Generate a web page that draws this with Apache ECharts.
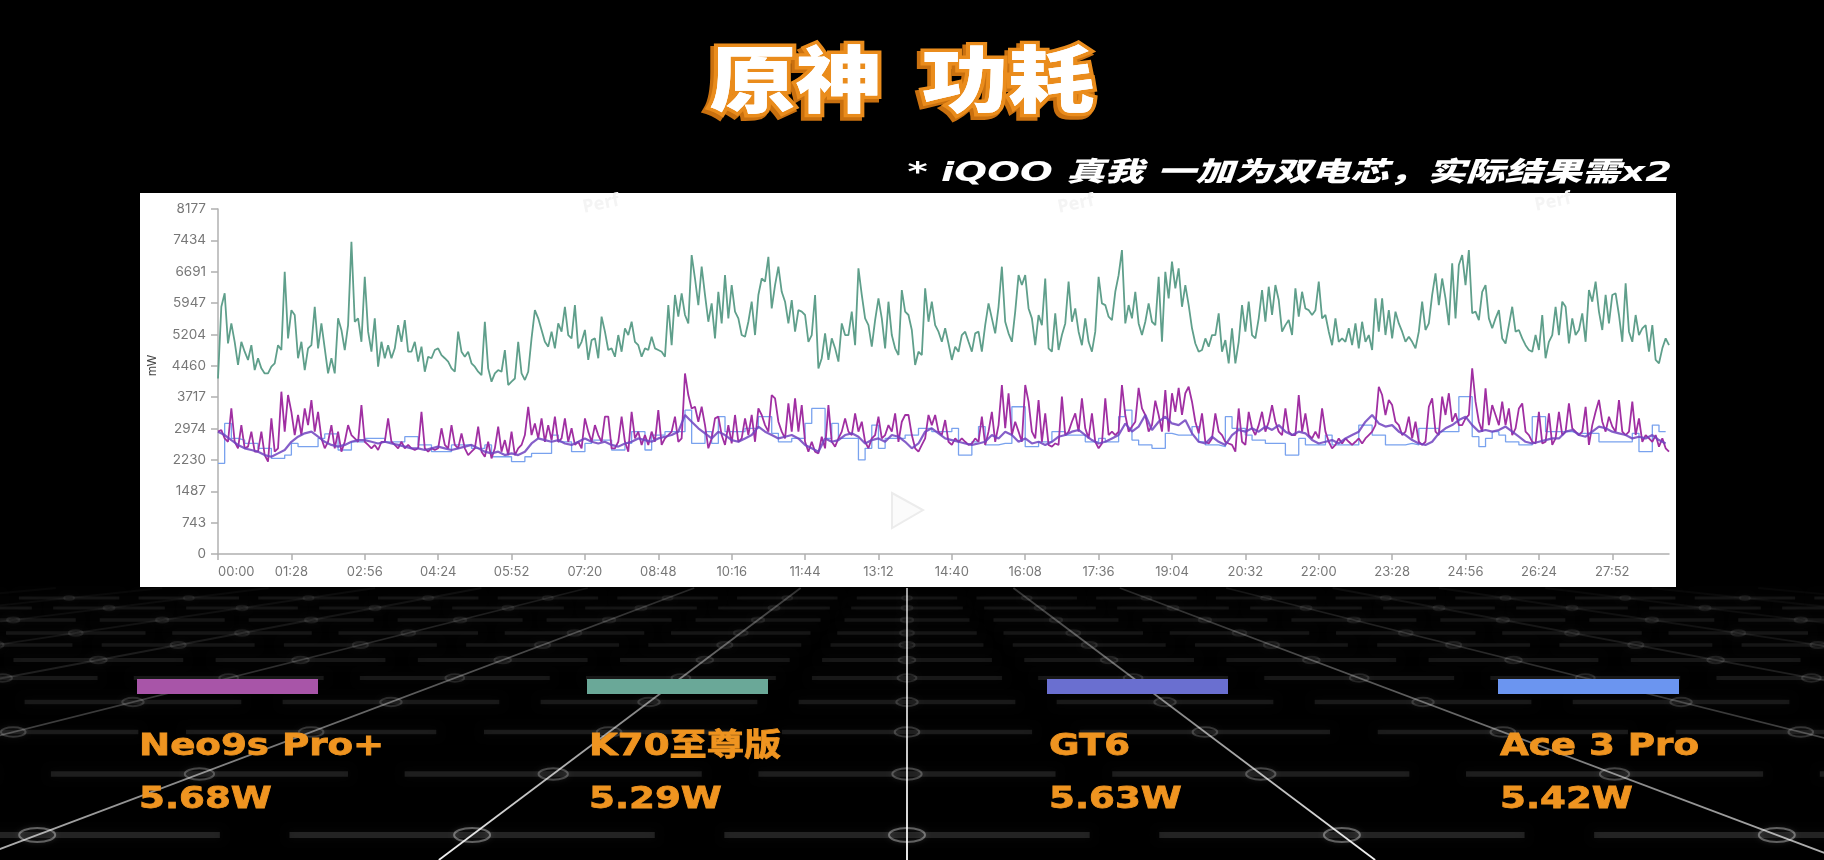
<!DOCTYPE html>
<html lang="zh">
<head>
    <meta charset="UTF-8">
    <title>原神 功耗</title>
    <script src="https://cdn.jsdelivr.net/npm/echarts@6/dist/echarts.min.js"></script>
    <style>html,body{margin:0;padding:0;background:#000;} #main{filter:blur(0.5px);}</style>
</head>
<body>
<div id="main" style="width: 1824px;height:860px;"></div>
<script type="text/javascript">
    // K70至尊版, one value every 4 s
    var k70Values = [
        4160,5860,6180,4990,5465,5030,4480,5030,4795,4600,4950,4360,4640,4400,4280,4280,4440,4520,4950,4835,
        6690,5110,5780,5665,4640,5030,4360,4875,4950,5860,4875,5465,4875,4280,4640,4280,5585,5310,4835,5425,
        7400,5505,5585,5030,6570,5270,4795,5585,4440,5030,4640,4950,4640,4875,5425,5030,5545,4795,4795,5030,
        4560,4915,4320,4675,4640,4835,4875,4715,4640,4560,4400,4320,5270,4795,4675,4795,4520,4440,4320,4240,
        5505,4400,4085,4280,4360,4320,4835,4005,4085,4160,
        5030,4280,4125,4320,5110,5780,5585,5310,5030,4915,5270,4875,5465,5270,5860,5190,5110,5900,4875,5030,
        5310,4600,5070,5110,4640,5625,5270,4835,4875,4675,5190,4795,5350,5190,5505,5030,4950,4675,4875,4835,
        5150,4875,4835,4795,4675,5900,4950,6140,5625,6180,5665,5465,7085,6530,5900,6810,6140,5505,5940,5110,
        6215,5465,6610,5585,6375,5745,5585,5190,5150,5505,5980,5190,6140,6530,6455,7045,5820,6375,6810,6215,
        5980,5465,6020,5270,5780,5745,5665,5030,
        5190,6140,4400,4640,5230,4600,5110,4875,4560,5465,5190,5190,5745,4950,6770,6140,5585,5425,4915,5545,
        6060,5585,4875,5980,5190,4875,4715,6255,5745,5665,5310,4480,4795,4715,6295,5505,5980,5425,5270,5030,
        5350,4990,4600,4915,4795,5190,5270,5030,4795,5230,5270,4795,5425,5940,5585,5230,5860,6810,5505,5230,
        5030,5745,6610,6375,6610,5820,5585,4950,5665,5425,6530,4875,4795,5705,4835,5190,5465,6455,5505,5820,
        5270,4950,5585,5030,4795,5270,6570,
        5940,5900,5625,5545,6215,6610,7205,5465,5900,5585,6215,5465,5190,5505,5940,5505,5425,6570,5030,6690,
        6060,6930,6295,6770,5860,6375,5900,5350,4990,4795,4835,5110,4915,5190,5190,5705,4795,5070,4520,5350,
        4520,5030,5900,5270,5980,5190,5110,5585,6255,5505,6335,5665,6375,6020,5270,5425,5545,5190,6295,5625,
        6215,5820,5780,5665,5780,6455,5585,5665,5270,4950,5585,5030,5110,5030,5350,4950,5465,4875,5505,5030,
        5190,4835,6060,5270,6060,5190,5780,
        5110,5745,5465,5270,5030,5150,5030,4875,5270,5980,5310,5465,6140,6650,5900,6530,6060,5425,6890,5585,
        6850,7085,6375,7205,5705,5745,5545,6215,6375,5585,5350,5585,5780,5110,4990,5425,5860,5270,5310,5110,
        4950,4835,4795,5190,4835,5665,4640,5030,5190,5860,5190,5980,5860,4990,5585,5190,5310,5705,5030,6255,
        5980,6455,5745,5310,6140,5465,6140,6180,5665,5030,6415,5270,5030,5665,5190,5350,5425,4795,5425,4600,
        4520,4875,5110,4950
    ];
    // Neo9s Pro+, one value every 4 s
    var neoValues = [
        2900,2940,2740,2660,3450,2660,2505,3055,2505,2545,2900,2425,2425,2900,2345,2190,3215,2425,2505,3847,
        2900,3768,3370,2820,3295,2820,3450,3055,3650,2900,3370,2740,2505,2660,3055,2505,2900,2425,2660,3055,
        2820,2740,2660,3530,2660,2585,2505,2585,2465,2660,2660,3215,2660,2585,2505,2660,2505,2585,2505,2465,
        2505,3370,2505,2425,2505,2465,2505,2980,2585,2505,3055,2585,2505,2860,2505,2345,2425,2505,3020,2425,
        2305,2660,2265,2505,3020,2425,2700,2345,2900,2345,
        2505,2585,2820,3490,2820,3095,2740,3215,2660,3055,2700,3255,2660,2740,3215,2660,2980,2585,2660,2505,
        3215,2900,2660,3055,2820,2660,3255,3255,2505,2505,2660,3255,2660,2425,3370,2740,2900,2585,2820,2585,
        2900,2660,3410,2585,2740,2820,2900,3255,2660,2740,4280,3768,3450,3490,3135,3490,3055,2505,2740,3215,
        3255,2820,2585,3055,2620,3295,2660,2740,3215,2820,3295,2660,3450,3295,3055,2900,3768,3690,3135,2900,
        2740,3570,2900,3690,2900,3530,2660,2425,
        2660,2425,2385,2780,2505,3530,2660,2545,2740,2900,3215,2900,2820,3335,2900,3135,2660,2505,2740,2820,
        3255,2740,2820,3055,2900,3335,2660,3135,3295,3295,2820,2505,2425,2585,2740,3295,3055,3295,2900,2820,
        3175,2660,2585,2740,2660,2740,2660,2585,2620,2740,2660,3255,2585,2900,3370,2660,3055,4005,2980,3810,
        2820,3135,2900,2660,4005,3610,2900,2740,3650,2660,3335,2585,2545,2620,2585,3730,2820,2900,3135,3335,
        2900,3690,2980,2740,3335,2660,2505,
        2620,3690,2820,2900,2820,2900,4005,3295,2900,3020,3135,3940,3450,3295,2900,3055,3635,3295,2900,3885,
        2900,3810,3370,3940,3295,3810,3965,3610,3135,2860,3335,2660,2620,2740,3335,2900,2820,2660,2620,2585,
        2425,3450,2660,2585,3370,2980,2820,3055,3370,2900,3135,3530,3135,2900,2820,3450,2900,2820,2820,3768,
        2900,3335,2820,2740,2900,2740,3450,2900,2660,2505,2585,2740,2620,2740,2660,2585,2660,2740,2620,2740,
        2820,2900,3055,3965,3768,3295,3650,
        3530,3135,3055,2820,2900,3255,2740,3135,2660,2585,2660,3490,3690,2900,2820,3730,3295,3810,3135,3335,
        3055,3055,3215,3295,4400,3610,3135,2900,3925,3055,3530,3295,3055,3610,3055,3450,2820,2980,3450,3570,
        2900,2820,2660,2620,3370,2620,2660,3335,2585,2740,3370,2820,2900,3570,2980,2900,2820,2900,3490,2585,
        3055,3370,3650,3135,2900,3255,3020,2900,3650,2900,2820,2900,3610,2820,3215,2660,2820,2740,2660,2820,
        2545,2740,2505,2425
    ];
    // GT6, one value every 8 s
    var gt6Values = [
        2900,2820,2700,2585,2505,2465,2425,2345,2305,2385,2465,2660,2780,2860,2900,2780,2660,2585,2545,2585,
        2660,2700,2700,2660,2620,2660,2620,2585,2545,2505,2505,2465,2505,2545,2505,2465,2505,2545,2585,2505,
        2425,2385,2425,2345,2385,
        2345,2425,2620,2740,2700,2660,2700,2620,2585,2660,2740,2660,2620,2660,2585,2545,2620,2660,2740,2700,
        2660,2740,2780,2820,2900,3295,3135,2980,2860,2740,2900,2820,2700,2660,2740,2820,3020,2900,2820,2740,
        2780,2820,2740,2585,
        2505,2425,2740,2660,2700,2820,2860,2780,2620,2700,2740,2660,2820,2780,2660,2505,2620,2900,2980,2860,
        2740,2700,2660,2620,2585,2620,2660,2820,2740,2900,2820,2660,2740,2620,2660,2585,2660,2780,2820,2900,
        2940,2820,2700,2620,
        2660,2740,2820,3095,2900,3020,3295,2940,3135,3255,3095,3055,3175,2860,2660,2620,2780,2660,2585,2820,
        2940,2900,2980,2900,3020,2940,3055,2900,2820,2900,2860,2700,2620,2660,2700,2620,2740,2820,2900,3135,
        3295,3095,3020,
        3055,2900,2820,2700,2620,2585,2660,2860,2980,3055,3175,3255,3055,2900,2940,2900,2940,3020,2900,2780,
        2660,2620,2660,2700,2740,2740,2900,2940,2820,2780,2900,3020,2980,2900,2860,2820,2740,2780,2740,2820,
        2700,2620
    ];
    // Ace 3 Pro, one value every 8 s
    var aceValues = [
        2150,3095,2740,2700,2620,2620,2505,2505,2265,2265,2345,2620,2545,2545,2545,2740,2845,2845,2465,2465,
        2660,2660,2740,2740,2740,2660,2660,2660,2780,2780,2585,2585,2425,2425,2425,2585,2585,2585,2505,2505,
        2585,2305,2305,2305,2190,
        2190,2305,2385,2385,2385,2820,2660,2660,2425,2425,2620,2700,2700,2700,2465,2465,2620,2900,2900,2465,
        2820,2820,2900,2900,2900,3410,2620,2620,2900,2620,3255,2900,2900,2900,2980,2980,3255,3255,2860,2660,
        2660,2740,2740,3095,
        3450,3450,2740,3095,2740,2740,2740,2230,2505,3055,2505,2740,2740,2740,2820,2820,2980,2980,2900,2900,
        2900,2980,2345,2345,2660,3020,2585,2585,2620,2620,3490,3490,2545,2545,2660,2660,2900,2900,2820,2820,
        2820,2660,2660,2740,
        2660,2660,3255,3410,2700,2585,2585,2505,2505,2860,2820,2820,2820,3020,2660,2585,2585,2545,3255,2980,
        2980,2820,2700,2700,2620,2620,2620,2345,2345,2740,2585,2585,2585,2820,2585,2585,2585,2585,3055,3055,
        2820,2820,2585,
        2585,2585,2620,2585,2980,2980,2980,2900,2900,2900,3730,3730,2780,2545,2740,2900,2820,2660,2660,2585,
        2585,3255,3255,2900,2900,2900,2900,2860,2860,2860,2860,2660,2660,2660,2660,2660,2860,2425,2425,3055,
        2900,2900
    ];
    var yTickLabels = ['0','743','1487','2230','2974','3717','4460','5204','5947','6691','7434','8177'];
    var legendNames = ['Neo9s Pro+','K70至尊版','GT6','Ace 3 Pro'];
    var legendPowers = ['5.68W','5.29W','5.63W','5.42W'];
    var legendColors = ['#a855a8','#6aa898','#6a6fd0','#6b95f0'];
    var legendLeft = [137,587,1047,1498];

    // x axis is one category per 4 s sample, ticks land every 88 s
    var times = [];
    for (var i = 0; i < k70Values.length; i++) {
        var sec = i * 4;
        var mm = Math.floor(sec / 60), ss = sec % 60;
        times.push((mm < 10 ? '0' : '') + mm + ':' + (ss < 10 ? '0' : '') + ss);
    }
    function every8s(values) {
        return values.map(function (v, i) { return [i * 2, v]; });
    }

    var graphics = [];

    // floor behind everything: rays from a vanishing point hidden behind the white panel
    var vpX = 907, vpY = 508, raySlope = 1.33, floorTop = 588;
    var rowYs = [598,608,620,633,645,660,678,702,732,774,835];
    var rayAlpha = [1,0.95,0.7,0.4,0.26,0.2,0.16,0.14,0.12];
    for (var k = -8; k <= 8; k++) {
        var a = rayAlpha[Math.abs(k)];
        var x1 = vpX + k * raySlope * (floorTop - vpY), x2 = vpX + k * raySlope * (860 - vpY);
        graphics.push({
            type: 'line', z: -20, silent: true,
            shape: {x1: x1, y1: floorTop, x2: x2, y2: 860},
            style: {
                lineWidth: 1.8,
                stroke: {type: 'linear', global: true, x: 0, y: floorTop, x2: 0, y2: 860, colorStops: [
                    {offset: 0, color: 'rgba(255,255,255,' + (a * (k === 0 ? 0.7 : 0.2)) + ')'},
                    {offset: 1, color: 'rgba(255,255,255,' + a + ')'}
                ]}
            }
        });
    }
    rowYs.forEach(function (y) {
        var gap = raySlope * (y - vpY);
        var f = (y - vpY) / 327;
        for (var k = -20; k <= 20; k++) {
            var cx = vpX + k * gap;
            if (cx < -gap || cx > 1824 + gap) continue;
            graphics.push({
                type: 'line', z: -20, silent: true,
                shape: {x1: cx - gap * 0.42, y1: y, x2: cx + gap * 0.42, y2: y},
                style: {stroke: 'rgba(255,255,255,' + (0.05 + 0.07 * f) + ')', lineWidth: 2 + 4 * f, shadowBlur: 8, shadowColor: 'rgba(255,255,255,0.3)'}
            });
            graphics.push({
                type: 'ellipse', z: -19, silent: true,
                shape: {cx: cx, cy: y, rx: 18 * f, ry: 7 * f},
                style: {fill: 'transparent', stroke: 'rgba(255,255,255,' + (0.04 + 0.3 * f * f) + ')', lineWidth: 2, shadowBlur: 4, shadowColor: 'rgba(255,255,255,0.4)'}
            });
        }
    });

    // white panel the chart sits on
    graphics.push({type: 'rect', z: -10, silent: true, shape: {x: 140, y: 193, width: 1536, height: 394}, style: {fill: '#fff'}});

    // faint video watermark and play button
    [[601,204],[1076,204],[1553,202]].forEach(function (p) {
        graphics.push({type: 'text', z: -9, silent: true, x: p[0], y: p[1], rotation: 0.2,
            style: {text: 'Perf', fill: '#f4f4f4', font: 'bold 18px "Noto Sans"', align: 'center', verticalAlign: 'middle'}});
    });
    graphics.push({type: 'polygon', z: -9, silent: true, shape: {points: [[892,493],[923,510],[892,528]]}, style: {fill: '#fbfbfb', stroke: '#ececec', lineWidth: 2}});

    // title, a darker copy underneath gives the offset edge
    var titleFont = '900 72px "Noto Sans CJK SC"';
    graphics.push({type: 'text', x: 899, y: 82, scaleX: 1.2, style: {text: '原神  功耗', font: titleFont, fill: '#c9700f', stroke: '#c9700f', lineWidth: 8, align: 'center', verticalAlign: 'middle'}});
    graphics.push({type: 'text', x: 902, y: 79, scaleX: 1.2, style: {text: '原神  功耗', font: titleFont, fill: '#fff', stroke: '#ea8c1c', lineWidth: 7, align: 'center', verticalAlign: 'middle'}});
    graphics.push({type: 'text', x: 902, y: 79, scaleX: 1.2, style: {text: '原神  功耗', font: titleFont, fill: '#fff', align: 'center', verticalAlign: 'middle'}});
    graphics.push({type: 'text', x: 1672, y: 174, scaleX: 1.43, style: {text: '* iQOO 真我 一加为双电芯，实际结果需x2', font: 'italic 900 27px "DejaVu Sans","Noto Sans CJK SC"', fill: '#fff', align: 'right', verticalAlign: 'middle'}});

    // the four phones under the chart
    legendNames.forEach(function (name, i) {
        graphics.push({type: 'rect', shape: {x: legendLeft[i], y: 679, width: 181, height: 15}, style: {fill: legendColors[i]}});
        graphics.push({type: 'text', x: legendLeft[i] + 2, y: 747, scaleX: 1.2, style: {text: name, font: 'bold 31px "DejaVu Sans","Noto Sans CJK SC"', fill: '#ef9420', stroke: '#ef9420', lineWidth: 0.8, align: 'left', verticalAlign: 'middle'}});
        graphics.push({type: 'text', x: legendLeft[i] + 2, y: 800, scaleX: 1.2, style: {text: legendPowers[i], font: 'bold 31px "DejaVu Sans"', fill: '#ef9420', stroke: '#ef9420', lineWidth: 0.8, align: 'left', verticalAlign: 'middle'}});
    });

    var myChart = echarts.init(document.getElementById('main'));
    myChart.setOption({
        backgroundColor: '#000',
        animation: false,
        grid: {left: 218, right: 155, top: 209, bottom: 306},
        xAxis: {
            type: 'category',
            boundaryGap: false,
            data: times,
            axisLine: {show: true, lineStyle: {color: '#b0b0b0', width: 1.5}},
            axisTick: {show: true, interval: 21, alignWithLabel: true, length: 6, lineStyle: {color: '#b0b0b0', width: 1.5}},
            axisLabel: {interval: 21, alignMinLabel: 'left', color: '#777', fontSize: 13, fontFamily: 'Inter', margin: 12, hideOverlap: false}
        },
        yAxis: {
            type: 'value',
            min: 0,
            max: 8177.4,
            interval: 743.4,
            name: 'mW',
            nameLocation: 'middle',
            nameRotate: 90,
            nameGap: 60,
            nameTextStyle: {color: '#444', fontSize: 12, fontFamily: 'Inter', padding: [0, 0, 0, 32]},
            splitLine: {show: false},
            axisLine: {show: true, lineStyle: {color: '#b0b0b0', width: 1.5}},
            axisTick: {show: true, length: 7, lineStyle: {color: '#b0b0b0', width: 1.5}},
            axisLabel: {color: '#777', fontSize: 13.5, fontFamily: 'Inter', margin: 12, formatter: function (v, i) { return yTickLabels[i]; }}
        },
        series: [
            {name: 'K70至尊版', type: 'line', data: k70Values, symbol: 'none', lineStyle: {color: '#5f9f8b', width: 1.8}},
            {name: 'Ace 3 Pro', type: 'line', data: every8s(aceValues), step: 'end', symbol: 'none', lineStyle: {color: '#79a2ee', width: 1.3}},
            {name: 'Neo9s Pro+', type: 'line', data: neoValues, symbol: 'none', lineStyle: {color: '#a02fa2', width: 1.8}},
            {name: 'GT6', type: 'line', data: every8s(gt6Values), symbol: 'none', lineStyle: {color: '#7043bf', width: 2.2, opacity: 0.85}}
        ],
        graphic: {elements: graphics}
    });
</script>
</body>
</html>
